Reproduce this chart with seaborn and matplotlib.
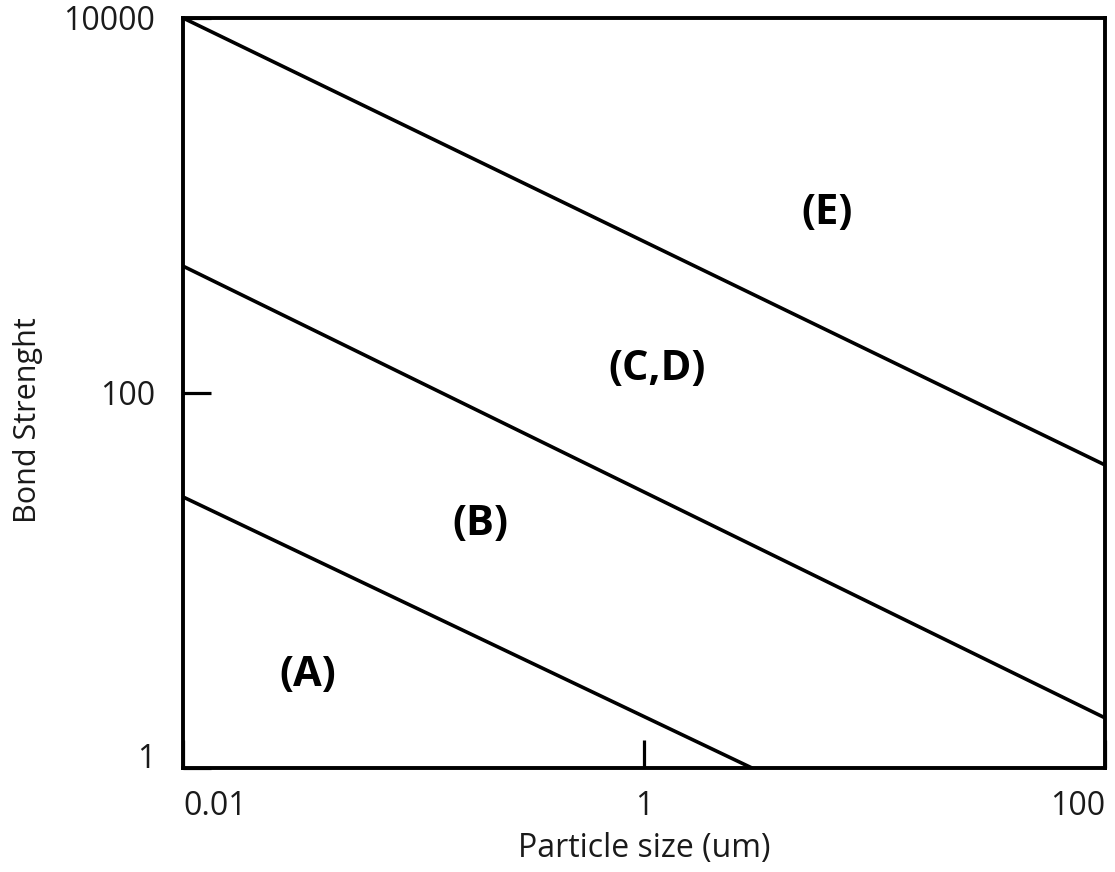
import matplotlib
matplotlib.use("Agg")
import matplotlib.pyplot as plt
import seaborn as sns
import pandas as pd

# Boundary lines between bonding regimes (log-log endpoints)
boundary_ids = ["A/B", "A/B", "B/CD", "B/CD", "CD/E", "CD/E"]
particle_size = [0.01, 2.94, 0.01, 100, 0.01, 100]
bond_strength = [27.9, 1.0, 475, 1.85, 10000, 41.3]

# Region labels and where they sit
region_names = ["(A)", "(B)", "(C,D)", "(E)"]
region_x = [0.0348, 0.196, 1.14, 6.22]
region_y = [3.13, 19.8, 132.7, 901]

# Axis ticks
x_ticks = [0.01, 1, 100]
x_tick_labels = ["0.01", "1", "100"]
y_ticks = [1, 100, 10000]
y_tick_labels = ["1", "100", "10000"]

df = pd.DataFrame({"boundary": boundary_ids,
                   "size": particle_size,
                   "strength": bond_strength})

sns.set_theme(style="white")
plt.rcParams["font.family"] = ["Open Sans", "DejaVu Sans"]
text_color = "#1a1a1a"

fig = plt.figure(figsize=(11.15, 8.72), dpi=100)
ax = fig.add_axes([0.1641, 0.1193, 0.8269, 0.8601])

sns.lineplot(data=df, x="size", y="strength", units="boundary",
             estimator=None, color="black", linewidth=2.6, ax=ax,
             legend=False)

ax.set_xscale("log")
ax.set_yscale("log")
ax.set_xlim(0.01, 100)
ax.set_ylim(1, 10000)

ax.set_xticks(x_ticks)
ax.set_xticklabels(x_tick_labels)
ax.set_yticks(y_ticks)
ax.set_yticklabels(y_tick_labels)
ax.minorticks_off()

ax.tick_params(axis="both", which="major", direction="in", length=20,
               width=2.3, color="black", labelsize=23,
               labelcolor=text_color, bottom=True, left=True,
               top=False, right=False)
ax.tick_params(axis="x", pad=16)
ax.tick_params(axis="y", pad=20)

xt = ax.get_xticklabels()
xt[0].set_ha("left")
xt[-1].set_ha("right")
yt = ax.get_yticklabels()
yt[0].set_va("baseline")

for side in ["left", "right", "top", "bottom"]:
    ax.spines[side].set_visible(True)
    ax.spines[side].set_color("black")
    ax.spines[side].set_linewidth(2.8)

ax.set_xlabel("Particle size (um)", fontsize=23, color=text_color)
ax.set_ylabel("Bond Strenght", fontsize=22, color=text_color)
ax.xaxis.set_label_coords(0.5, -0.085)
ax.yaxis.set_label_coords(-0.152, 0.464)

for name, rx, ry in zip(region_names, region_x, region_y):
    ax.text(rx, ry, name, fontsize=30, fontweight="bold", color="black",
            ha="center", va="center")

fig.savefig("out.png", dpi=100)
